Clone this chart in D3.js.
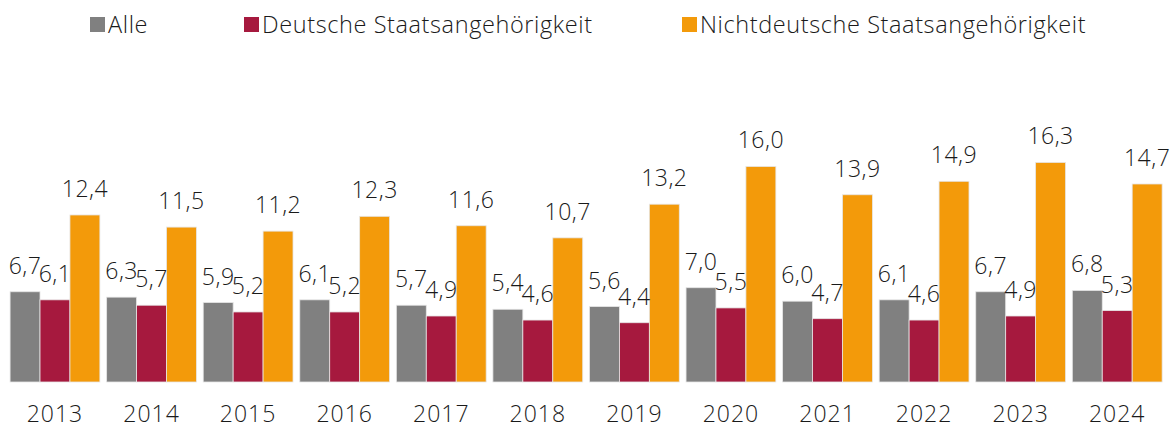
<!DOCTYPE html>
<html>
<head>
<meta charset="utf-8">
<script src="https://cdn.jsdelivr.net/npm/d3@7"></script>
<style>
  body { margin: 0; background: #fff; }
  svg text { font-family: "Open Sans", "Liberation Sans", sans-serif; font-weight: 300; fill: #1a1a1a; }
</style>
</head>
<body>
<div id="chart"></div>
<script>
// Arbeitslosenquote nach Staatsangehörigkeit
const years = ['2013', '2014', '2015', '2016', '2017', '2018', '2019', '2020', '2021', '2022', '2023', '2024'];
const seriesNames = ['Alle', 'Deutsche Staatsangehörigkeit', 'Nichtdeutsche Staatsangehörigkeit'];
const alle = [6.7, 6.3, 5.9, 6.1, 5.7, 5.4, 5.6, 7.0, 6.0, 6.1, 6.7, 6.8];
const deutsche = [6.1, 5.7, 5.2, 5.2, 4.9, 4.6, 4.4, 5.5, 4.7, 4.6, 4.9, 5.3];
const nichtdeutsche = [12.4, 11.5, 11.2, 12.3, 11.6, 10.7, 13.2, 16.0, 13.9, 14.9, 16.3, 14.7];
const colors = ['#808080', '#a6193e', '#f39a0a'];

const width = 1172, height = 430;
const baseY = 382;

const svg = d3.select('#chart').append('svg')
    .attr('width', width)
    .attr('height', height);

const x0 = d3.scaleBand().domain(years).range([6.7, 1165.5]).paddingInner(0.07).paddingOuter(0.035);
const x1 = d3.scaleBand().domain(seriesNames).range([0, x0.bandwidth()]);
const y = d3.scaleLinear().domain([0, 18]).range([baseY, baseY - 18 * 13.47]);

const fmt = d3.formatLocale({decimal: ',', thousands: '.', grouping: [3], currency: ['', ' €']}).format('.1f');

const rows = years.map((yr, i) => ({
    year: yr,
    vals: [alle[i], deutsche[i], nichtdeutsche[i]].map((v, k) => ({ key: seriesNames[k], v, k }))
}));

const groups = svg.selectAll('g.year')
    .data(rows)
    .enter().append('g')
    .attr('class', 'year')
    .attr('transform', d => `translate(${x0(d.year)},0)`);

groups.selectAll('rect')
    .data(d => d.vals)
    .enter().append('rect')
    .attr('x', d => x1(d.key))
    .attr('y', d => y(d.v))
    .attr('width', x1.bandwidth())
    .attr('height', d => baseY - y(d.v))
    .attr('fill', d => colors[d.k])
    .attr('stroke', '#e6e6e6')
    .attr('stroke-width', 0.8);

groups.selectAll('text.val')
    .data(d => d.vals)
    .enter().append('text')
    .attr('class', 'val')
    .attr('x', d => x1(d.key) + x1.bandwidth() / 2)
    .attr('y', d => y(d.v) - 18)
    .attr('text-anchor', 'middle')
    .style('font-size', '23px')
    .style('letter-spacing', '0.5px')
    .text(d => fmt(d.v));

// x axis labels
const xAxis = d3.axisBottom(x0).tickSize(0).tickPadding(0);
const ax = svg.append('g')
    .attr('transform', `translate(0,${baseY})`)
    .call(xAxis);
ax.select('.domain').remove();
ax.selectAll('text')
    .attr('y', 40)
    .attr('dy', 0)
    .style('font-size', '23px')
    .style('letter-spacing', '1px')
    .style('font-family', '"Open Sans", "Liberation Sans", sans-serif')
    .style('font-weight', 300)
    .attr('fill', '#1a1a1a');

// legend
const legendX = [90, 244, 682];
const legend = svg.append('g');
seriesNames.forEach((name, i) => {
    legend.append('rect')
        .attr('x', legendX[i])
        .attr('y', 17)
        .attr('width', 15)
        .attr('height', 15)
        .attr('fill', colors[i]);
    legend.append('text')
        .attr('x', legendX[i] + 18)
        .attr('y', 33)
        .style('font-size', '23.5px')
        .style('letter-spacing', '0.6px')
        .text(name);
});
</script>
</body>
</html>
